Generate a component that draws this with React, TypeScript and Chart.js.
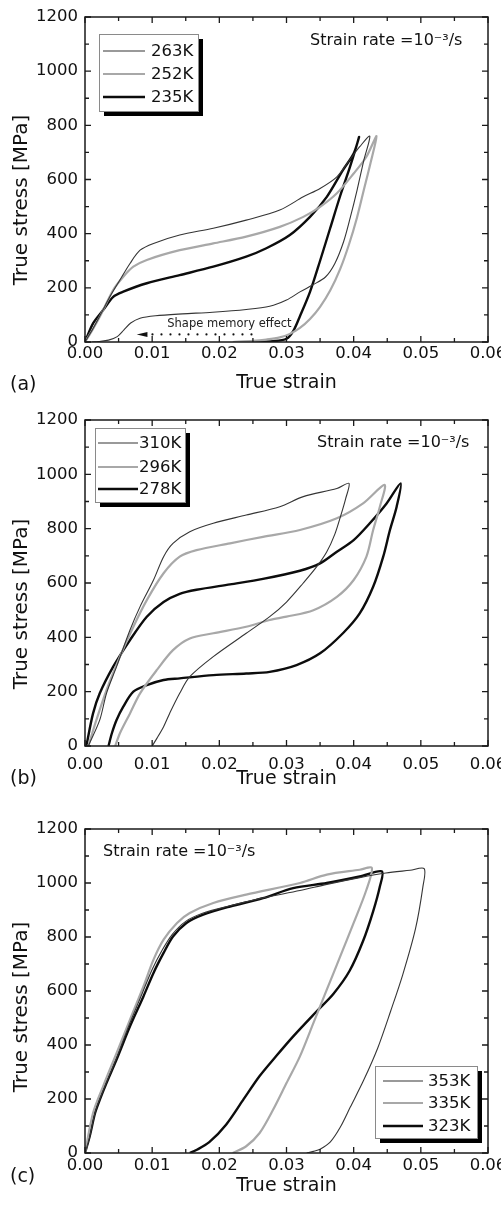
import React, { useEffect, useRef } from "react";
import { Chart, registerables } from "chart.js";

Chart.register(...registerables);

const FONT = "'DejaVu Sans', 'Liberation Sans', Arial, sans-serif";

// ---------- Axis definitions ----------
const strainMin = 0;
const strainMax = 0.06;
const strainStep = 0.01;
const stressMin = 0;
const stressMax = 1200;
const stressStep = 200;

// ---------- Panel (a) ----------
const strain263 = [0, 0.0012, 0.0025, 0.0037, 0.0052, 0.0067, 0.0082, 0.0102, 0.0141, 0.0191, 0.024, 0.029, 0.0325, 0.035, 0.0375, 0.0394, 0.0409, 0.0424, 0.0415, 0.0405, 0.0395, 0.0385, 0.0372, 0.0358, 0.034, 0.032, 0.03, 0.0275, 0.024, 0.019, 0.0145, 0.0105, 0.0082, 0.0068, 0.0058, 0.0048, 0.0035, 0.002, 0.001];
const stress263 = [0, 50, 110, 167, 229, 290, 339, 364, 395, 420, 450, 487, 536, 567, 610, 672, 721, 760, 670, 560, 460, 370, 290, 240, 212, 185, 155, 132, 120, 110, 104, 97, 88, 70, 45, 20, 7, 2, 0];

const strain252 = [0, 0.001, 0.0022, 0.0042, 0.0057, 0.0072, 0.0092, 0.0141, 0.0191, 0.024, 0.029, 0.0325, 0.035, 0.0375, 0.04, 0.0419, 0.0434, 0.0425, 0.0415, 0.0405, 0.0393, 0.038, 0.0365, 0.035, 0.0335, 0.032, 0.0305, 0.029, 0.027, 0.025, 0.022];
const stress252 = [0, 40, 93, 192, 241, 278, 303, 339, 364, 389, 425, 462, 499, 549, 622, 684, 760, 660, 560, 460, 360, 270, 190, 130, 85, 52, 30, 17, 9, 4, 0];

const strain235 = [0, 0.0012, 0.0027, 0.0042, 0.0057, 0.0092, 0.0141, 0.0191, 0.024, 0.027, 0.0305, 0.0335, 0.036, 0.0384, 0.04, 0.0408, 0.0395, 0.038, 0.0365, 0.035, 0.0335, 0.032, 0.031, 0.03, 0.028, 0.025];
const stress235 = [0, 69, 118, 167, 186, 217, 247, 278, 315, 346, 395, 462, 536, 635, 696, 757, 650, 540, 420, 300, 185, 95, 40, 12, 3, 0];

// Shape memory effect annotation (strain range of dotted arrow, stress level)
const smeArrowStrain = [0.0077, 0.0093, 0.026];
const smeArrowStress = 28;
const smeTextStrain = 0.01225;
const smeTextStress = 66;

// ---------- Panel (b) ----------
const strain310 = [0.0005, 0.0022, 0.0032, 0.0047, 0.0067, 0.0082, 0.0102, 0.0117, 0.0131, 0.0156, 0.0191, 0.024, 0.029, 0.0325, 0.0375, 0.0393, 0.0388, 0.0381, 0.0372, 0.036, 0.0345, 0.0325, 0.03, 0.0275, 0.024, 0.0191, 0.0156, 0.0141, 0.0126, 0.0117, 0.0107, 0.01];
const stress310 = [0, 96, 194, 292, 427, 513, 611, 697, 746, 789, 820, 850, 881, 918, 948, 967, 910, 850, 780, 715, 660, 600, 530, 476, 415, 329, 255, 194, 120, 71, 28, 0];

const strain296 = [0.0005, 0.0017, 0.0032, 0.0052, 0.0072, 0.0092, 0.0117, 0.0141, 0.0166, 0.0216, 0.0265, 0.032, 0.0375, 0.0414, 0.0446, 0.0439, 0.0429, 0.0419, 0.04, 0.0375, 0.034, 0.03, 0.0275, 0.024, 0.0191, 0.0156, 0.0131, 0.0107, 0.0082, 0.0067, 0.0052, 0.0045];
const stress296 = [0, 96, 206, 329, 439, 537, 636, 697, 721, 746, 770, 795, 838, 893, 961, 881, 795, 697, 611, 549, 500, 476, 464, 439, 415, 396, 353, 280, 194, 120, 47, 0];

const strain278 = [0.0002, 0.0012, 0.0022, 0.0042, 0.0067, 0.0092, 0.0117, 0.0141, 0.0166, 0.0216, 0.0265, 0.032, 0.035, 0.0375, 0.04, 0.0424, 0.0449, 0.047, 0.0464, 0.0454, 0.0444, 0.0429, 0.0409, 0.0384, 0.035, 0.0315, 0.0275, 0.024, 0.0191, 0.0141, 0.0117, 0.0092, 0.0072, 0.0057, 0.0047, 0.004, 0.0035];
const stress278 = [0, 120, 194, 292, 390, 476, 530, 560, 575, 595, 615, 645, 672, 715, 758, 820, 893, 967, 881, 795, 697, 586, 488, 415, 341, 298, 273, 267, 261, 249, 243, 224, 200, 145, 96, 47, 0];

// ---------- Panel (c) ----------
const strain353 = [0, 0.0007, 0.0015, 0.0022, 0.0032, 0.0047, 0.0065, 0.0085, 0.01, 0.0115, 0.013, 0.015, 0.0175, 0.0215, 0.0265, 0.032, 0.036, 0.0409, 0.0448, 0.0484, 0.0505, 0.0503, 0.0492, 0.0473, 0.0455, 0.0436, 0.0415, 0.0395, 0.038, 0.0365, 0.035, 0.034, 0.033];
const stress353 = [0, 60, 150, 200, 262, 352, 470, 590, 680, 752, 810, 858, 888, 915, 945, 972, 995, 1020, 1037, 1047, 1053, 985, 830, 660, 525, 390, 270, 170, 95, 40, 14, 6, 0];

const strain335 = [0, 0.0012, 0.0027, 0.0047, 0.0067, 0.0087, 0.0102, 0.0117, 0.0137, 0.0156, 0.0191, 0.024, 0.032, 0.036, 0.0409, 0.0427, 0.0419, 0.04, 0.038, 0.036, 0.034, 0.032, 0.03, 0.028, 0.026, 0.024, 0.022];
const stress335 = [0, 148, 247, 370, 494, 617, 716, 790, 852, 889, 926, 957, 1000, 1031, 1049, 1056, 975, 852, 728, 605, 481, 358, 259, 160, 74, 25, 0];

const strain323 = [0, 0.0007, 0.0015, 0.0022, 0.0032, 0.0047, 0.0067, 0.0087, 0.0102, 0.0117, 0.0131, 0.0151, 0.0176, 0.0216, 0.0265, 0.031, 0.036, 0.0409, 0.0442, 0.0439, 0.0429, 0.0414, 0.0394, 0.037, 0.0345, 0.031, 0.0285, 0.026, 0.0235, 0.021, 0.0185, 0.0165, 0.0156];
const stress323 = [0, 62, 148, 197, 259, 346, 469, 580, 667, 741, 802, 852, 883, 913, 944, 981, 1000, 1024, 1043, 987, 895, 785, 675, 590, 525, 432, 360, 285, 195, 105, 40, 10, 0];

const rateText = "Strain rate =10\u207B\u00B3/s";

type StyleKey = "thin" | "gray" | "black";
const STYLES: Record<StyleKey, { color: string; width: number }> = {
  thin: { color: "#353535", width: 1.1 },
  gray: { color: "#a8a8a8", width: 2.2 },
  black: { color: "#0c0c0c", width: 2.4 },
};

type Series = { label: string; strain: number[]; stress: number[]; style: StyleKey };

type PanelSpec = {
  top: number;
  height: number;
  chartTop: number;
  chartBottom: number;
  tag: string;
  tagY: number;
  xTitleY: number;
  yTitleY: number;
  xTickPad: number;
  rateX: number;
  rateY: number;
  legend: { x: number; y: number; w: number; h: number; l0: number; l1: number; tx: number; rows: number[] };
  series: Series[];
  sme?: boolean;
};

const panels: PanelSpec[] = [
  {
    top: 0, height: 400, chartTop: 17, chartBottom: 342,
    tag: "(a)", tagY: 385, xTitleY: 383, yTitleY: 200, xTickPad: 2,
    rateX: 310, rateY: 41,
    legend: { x: 99, y: 34, w: 99, h: 77, l0: 103, l1: 145, tx: 151, rows: [51, 74, 97] },
    series: [
      { label: "263K", strain: strain263, stress: stress263, style: "thin" },
      { label: "252K", strain: strain252, stress: stress252, style: "gray" },
      { label: "235K", strain: strain235, stress: stress235, style: "black" },
    ],
    sme: true,
  },
  {
    top: 400, height: 400, chartTop: 20, chartBottom: 346,
    tag: "(b)", tagY: 379, xTitleY: 379, yTitleY: 204, xTickPad: 9,
    rateX: 317, rateY: 43,
    legend: { x: 95, y: 28, w: 90, h: 74, l0: 98, l1: 138, tx: 139, rows: [43, 67, 89] },
    series: [
      { label: "310K", strain: strain310, stress: stress310, style: "thin" },
      { label: "296K", strain: strain296, stress: stress296, style: "gray" },
      { label: "278K", strain: strain278, stress: stress278, style: "black" },
    ],
  },
  {
    top: 800, height: 405, chartTop: 29, chartBottom: 353,
    tag: "(c)", tagY: 377, xTitleY: 386, yTitleY: 207, xTickPad: 3,
    rateX: 103, rateY: 52,
    legend: { x: 375, y: 266, w: 102, h: 72, l0: 383, l1: 423, tx: 428, rows: [281, 303, 326] },
    series: [
      { label: "353K", strain: strain353, stress: stress353, style: "thin" },
      { label: "335K", strain: strain335, stress: stress335, style: "gray" },
      { label: "323K", strain: strain323, stress: stress323, style: "black" },
    ],
  },
];

function decorPlugin(p: PanelSpec) {
  return {
    id: "decor" + p.tag,
    afterDraw(chart: any) {
      const ctx: CanvasRenderingContext2D = chart.ctx;
      const { left, right, top, bottom } = chart.chartArea;
      const xs = chart.scales.x;
      const ys = chart.scales.y;
      ctx.save();

      // frame
      ctx.strokeStyle = "#1a1a1a";
      ctx.lineWidth = 1.5;
      ctx.strokeRect(left, top, right - left, bottom - top);

      // inward ticks (major from scale ticks, minor halfway)
      ctx.lineWidth = 1.3;
      const xMaj: number[] = xs.ticks.map((t: any) => t.value);
      const yMaj: number[] = ys.ticks.map((t: any) => t.value);
      const drawX = (v: number, len: number) => {
        const px = xs.getPixelForValue(v);
        ctx.beginPath();
        ctx.moveTo(px, bottom);
        ctx.lineTo(px, bottom - len);
        ctx.moveTo(px, top);
        ctx.lineTo(px, top + len);
        ctx.stroke();
      };
      const drawY = (v: number, len: number) => {
        const py = ys.getPixelForValue(v);
        ctx.beginPath();
        ctx.moveTo(left, py);
        ctx.lineTo(left + len, py);
        ctx.moveTo(right, py);
        ctx.lineTo(right - len, py);
        ctx.stroke();
      };
      xMaj.forEach((v, i) => {
        drawX(v, 6);
        if (i < xMaj.length - 1) drawX((v + xMaj[i + 1]) / 2, 4);
      });
      yMaj.forEach((v, i) => {
        drawY(v, 6);
        if (i < yMaj.length - 1) drawY((v + yMaj[i + 1]) / 2, 4);
      });

      ctx.fillStyle = "#111";
      // y title
      ctx.save();
      ctx.translate(22, p.yTitleY);
      ctx.rotate(-Math.PI / 2);
      ctx.font = `20px ${FONT}`;
      ctx.textAlign = "center";
      ctx.textBaseline = "middle";
      ctx.fillText("True stress [MPa]", 0, 0);
      ctx.restore();

      // panel tag
      ctx.font = `19px ${FONT}`;
      ctx.textAlign = "left";
      ctx.textBaseline = "middle";
      ctx.fillText(p.tag, 10, p.tagY);

      // strain rate
      ctx.font = `16px ${FONT}`;
      ctx.fillText(rateText, p.rateX, p.rateY);

      // legend
      const L = p.legend;
      ctx.fillStyle = "#000";
      ctx.fillRect(L.x + 5, L.y + 5, L.w, L.h);
      ctx.fillStyle = "#fff";
      ctx.fillRect(L.x, L.y, L.w, L.h);
      ctx.strokeStyle = "#8a8a8a";
      ctx.lineWidth = 1;
      ctx.strokeRect(L.x + 0.5, L.y + 0.5, L.w, L.h);
      chart.data.datasets.forEach((ds: any, i: number) => {
        const y = L.rows[i];
        ctx.strokeStyle = ds.borderColor;
        ctx.lineWidth = ds.borderWidth;
        ctx.beginPath();
        ctx.moveTo(L.l0, y);
        ctx.lineTo(L.l1, y);
        ctx.stroke();
        ctx.fillStyle = "#111";
        ctx.font = `16.5px ${FONT}`;
        ctx.textBaseline = "middle";
        ctx.fillText(ds.label, L.tx, y + 1);
      });

      // shape memory effect annotation
      if (p.sme) {
        const ay = ys.getPixelForValue(smeArrowStress);
        const ax0 = xs.getPixelForValue(smeArrowStrain[0]);
        const ax1 = xs.getPixelForValue(smeArrowStrain[1]);
        const ax2 = xs.getPixelForValue(smeArrowStrain[2]);
        ctx.fillStyle = "#111";
        ctx.beginPath();
        ctx.moveTo(ax0, ay);
        ctx.lineTo(ax1, ay - 2.5);
        ctx.lineTo(ax1, ay + 2.5);
        ctx.closePath();
        ctx.fill();
        for (let x = ax1 + 5; x <= ax2; x += 9) {
          ctx.beginPath();
          ctx.arc(x, ay, 1.1, 0, Math.PI * 2);
          ctx.fill();
        }
        ctx.fillStyle = "#222";
        ctx.font = `11.5px ${FONT}`;
        ctx.textBaseline = "middle";
        ctx.fillText(
          "Shape memory effect",
          xs.getPixelForValue(smeTextStrain),
          ys.getPixelForValue(smeTextStress)
        );
      }
      ctx.restore();
    },
  };
}

function Panel({ p }: { p: PanelSpec }) {
  const ref = useRef<HTMLCanvasElement | null>(null);
  useEffect(() => {
    if (!ref.current) return;
    const datasets = p.series.map((s) => ({
      label: s.label,
      data: s.strain.map((x, i) => ({ x, y: s.stress[i] })),
      showLine: true,
      borderColor: STYLES[s.style].color,
      borderWidth: STYLES[s.style].width,
      pointRadius: 0,
      tension: 0.3,
      fill: false,
    }));
    const chart = new Chart(ref.current, {
      type: "scatter",
      data: { datasets },
      options: {
        responsive: false,
        animation: false,
        layout: { padding: { top: p.chartTop, left: 0, right: 13, bottom: 0 } },
        plugins: { legend: { display: false }, tooltip: { enabled: false } },
        scales: {
          x: {
            type: "linear",
            min: strainMin,
            max: strainMax,
            grid: { display: false, drawTicks: false },
            border: { display: false },
            ticks: {
              stepSize: strainStep,
              padding: p.xTickPad,
              color: "#111",
              font: { family: FONT, size: 16.5 },
              maxRotation: 0,
              callback: (v: any) => Number(v).toFixed(2),
            },
            title: {
              display: true,
              text: "True strain",
              color: "#111",
              font: { family: FONT, size: 19 },
              padding: { top: 0, bottom: p.height - p.xTitleY - 11.4 },
            },
            afterFit: (scale: any) => {
              scale.height = p.height - p.chartBottom;
              scale.paddingLeft = 0;
              scale.paddingRight = 0;
            },
          },
          y: {
            type: "linear",
            min: stressMin,
            max: stressMax,
            grid: { display: false, drawTicks: false },
            border: { display: false },
            ticks: {
              stepSize: stressStep,
              padding: 7,
              color: "#111",
              font: { family: FONT, size: 16.5 },
              callback: (v: any) => String(Math.round(Number(v))),
            },
            afterFit: (scale: any) => {
              scale.width = 85;
              scale.paddingTop = 0;
              scale.paddingBottom = 0;
            },
          },
        },
      } as any,
      plugins: [decorPlugin(p)],
    });
    return () => chart.destroy();
  }, [p]);
  return (
    <canvas
      ref={ref}
      width={501}
      height={p.height}
      style={{ position: "absolute", left: 0, top: p.top, width: 501, height: p.height }}
    />
  );
}

export default function App() {
  return (
    <div style={{ position: "absolute", left: 0, top: 0, width: 501, height: 1205, background: "#fff", overflow: "hidden" }}>
      {panels.map((p) => (
        <Panel key={p.tag} p={p} />
      ))}
    </div>
  );
}
